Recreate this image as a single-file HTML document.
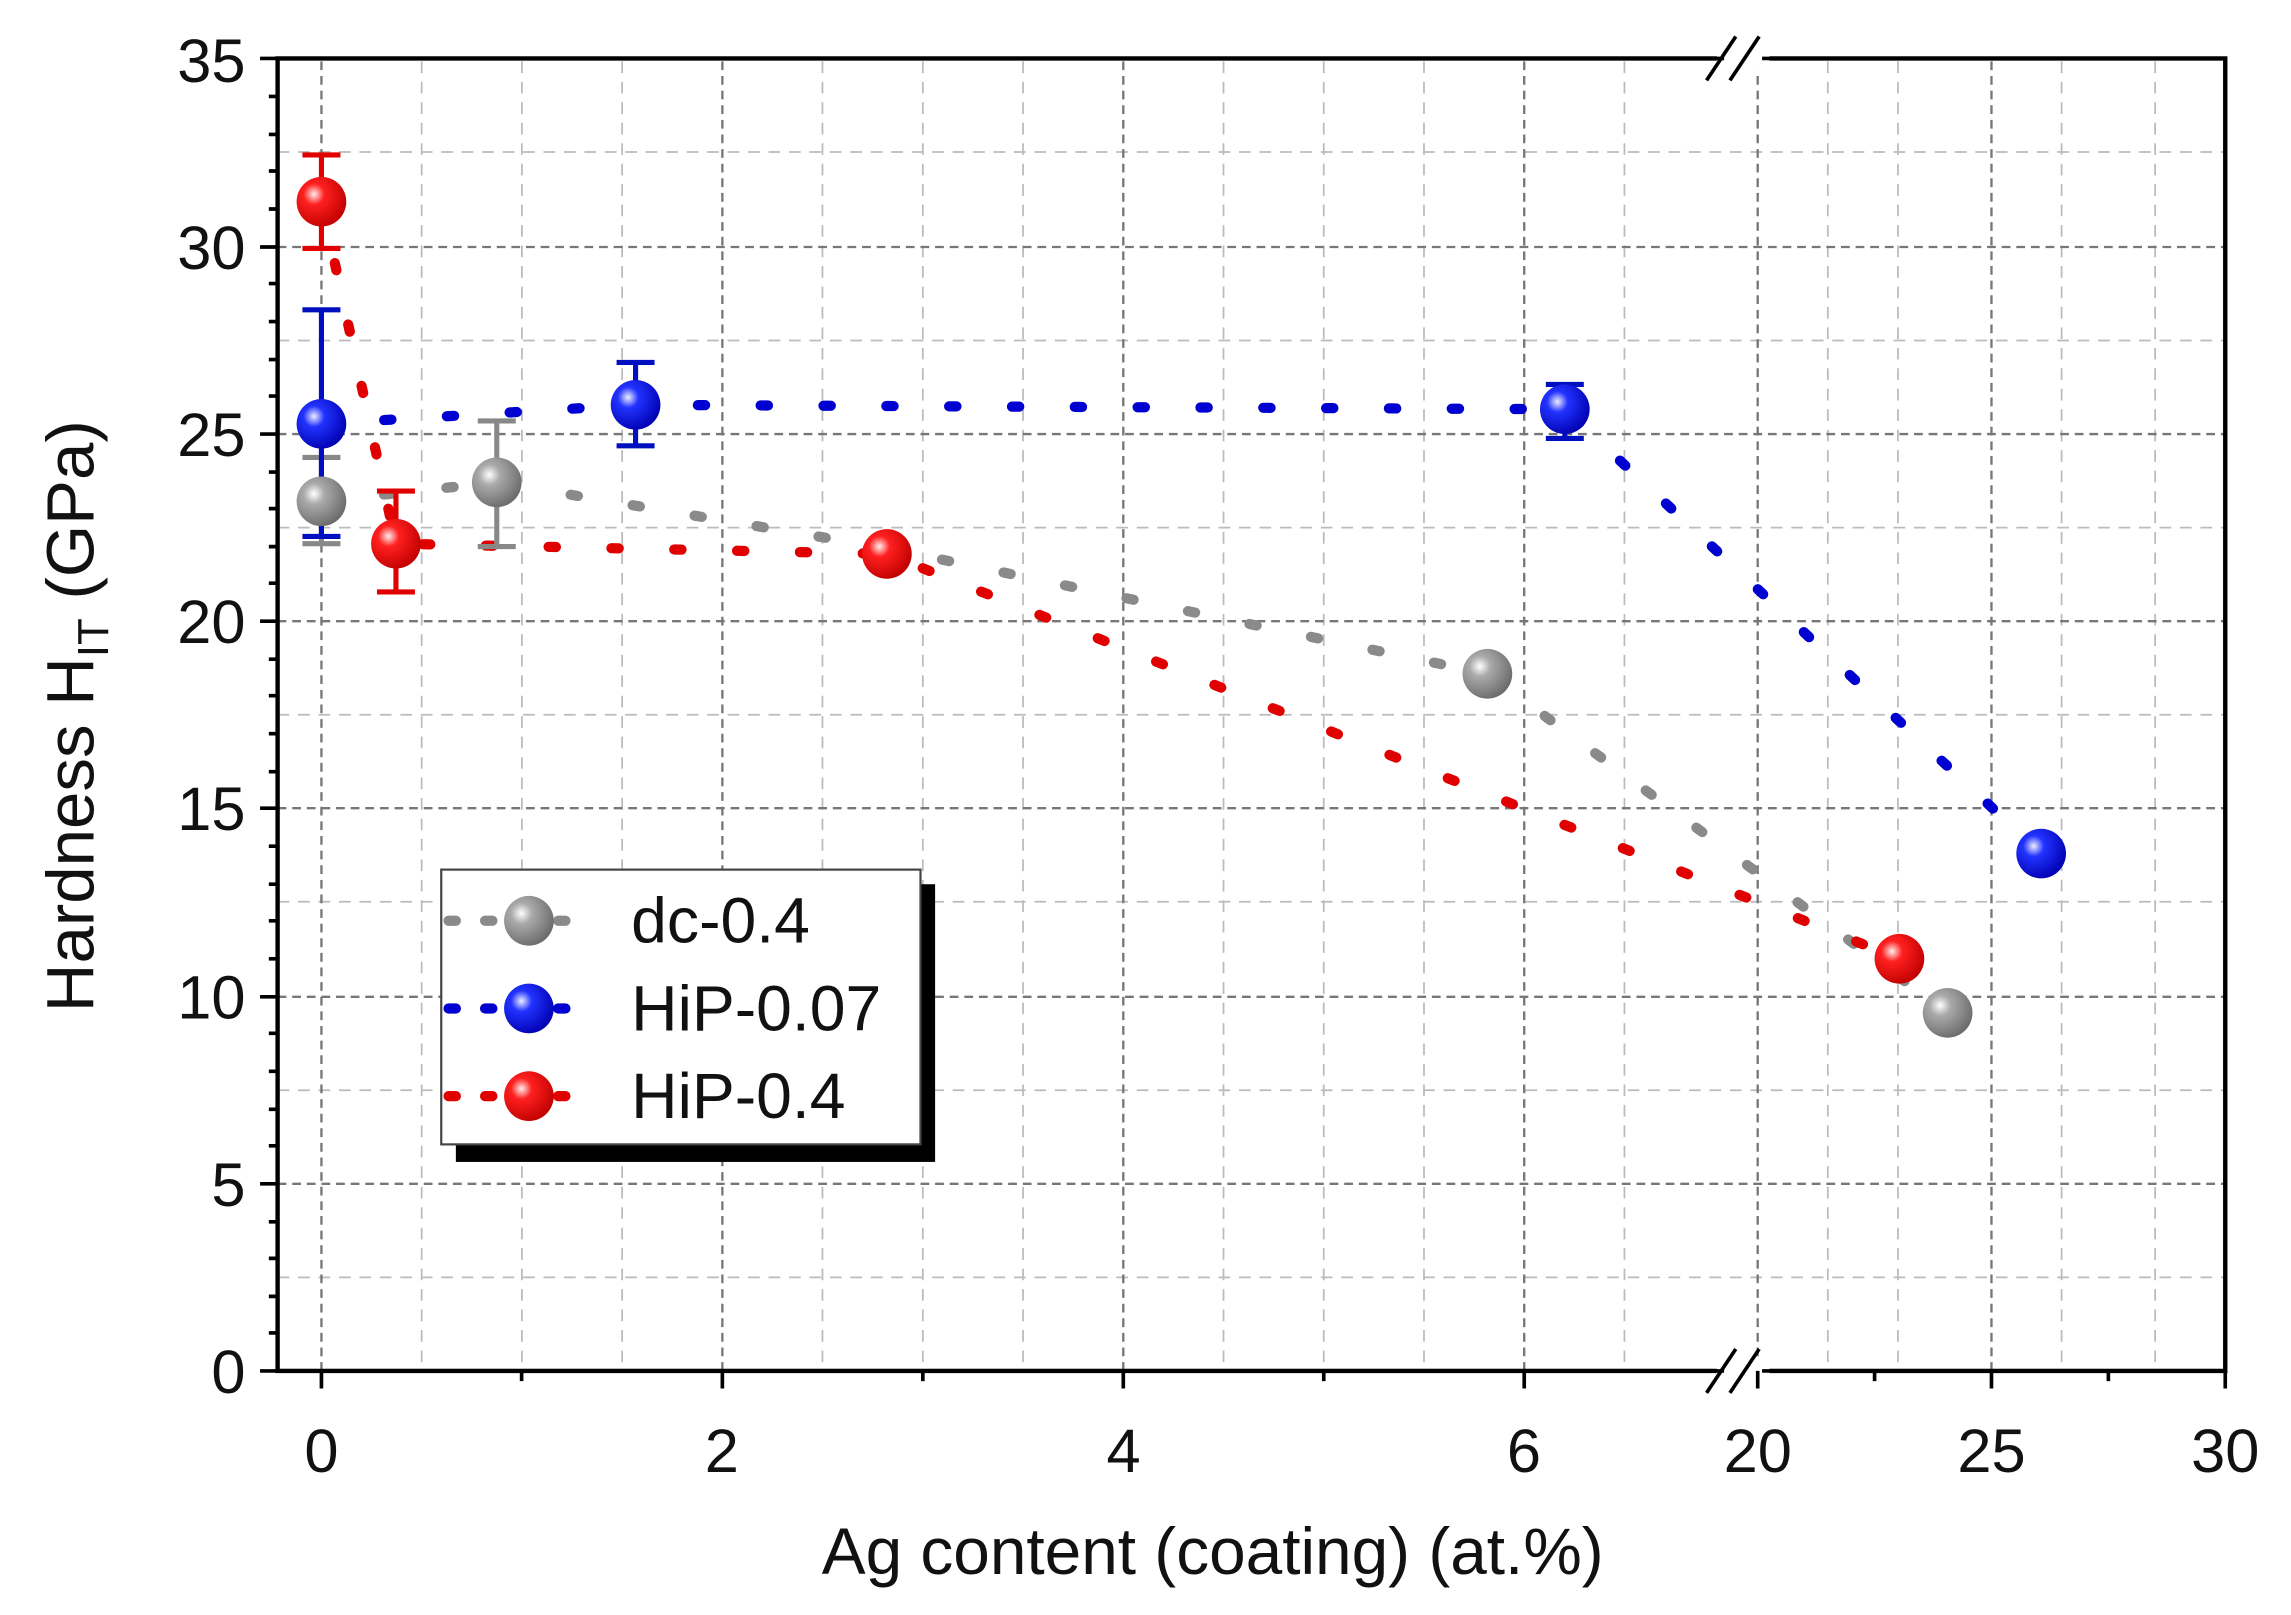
<!DOCTYPE html>
<html><head><meta charset="utf-8"><style>
html,body{margin:0;padding:0;background:#fff}
svg{display:block}
text{font-family:"Liberation Sans",sans-serif;fill:#111}
</style></head><body>
<svg width="2291" height="1615" viewBox="0 0 1568 1105" preserveAspectRatio="none" xmlns="http://www.w3.org/2000/svg">
<defs>
<radialGradient id="gg" cx="0.35" cy="0.35" r="0.7"><stop offset="0" stop-color="#fff"/><stop offset="0.3" stop-color="#aaa"/><stop offset="1" stop-color="#6a6a6a"/></radialGradient>
<radialGradient id="gb" cx="0.35" cy="0.35" r="0.7"><stop offset="0" stop-color="#eef"/><stop offset="0.3" stop-color="#2233ff"/><stop offset="1" stop-color="#0000b0"/></radialGradient>
<radialGradient id="gr" cx="0.35" cy="0.35" r="0.7"><stop offset="0" stop-color="#fee"/><stop offset="0.3" stop-color="#ff2020"/><stop offset="1" stop-color="#c00000"/></radialGradient>
</defs>
<g stroke="#bbb" stroke-width="1.2" stroke-dasharray="8 6" fill="none">
<path d="M288.6 42V938M357.2 42V938M425.8 42V938M562.9 42V938M631.6 42V938M700.2 42V938M837.4 42V938M906 42V938M974.6 42V938M1111.8 42V938M1251 42V938M1299 42V938M1411 42V938M1475 42V938"/>
<path d="M190 874H1523M190 746H1523M190 617H1523M190 489H1523M190 361H1523M190 233H1523M190 104H1523"/>
</g>
<g stroke="#777" stroke-width="1.6" stroke-dasharray="6 4" fill="none">
<path d="M220 42V938M494.4 42V938M768.8 42V938M1043.2 42V938M1203 42V938M1363 42V938"/>
<path d="M190 810H1523M190 682H1523M190 553H1523M190 425H1523M190 297H1523M190 169H1523"/>
</g>
<g fill="none" stroke-linecap="round" stroke-width="7" stroke-dasharray="5 38">
<path d="M220 343L340 330L607 375L1018 461L1333 693" stroke="#8a8a8a"/>
<path d="M220 138L271 372L607 379L1300 656" stroke="#e00000"/>
<path d="M220 290L435 277L1071 280L1397 584" stroke="#0000d0"/>
</g>
<g stroke-width="3.5" fill="none">
<path d="M220 313V372M207 313H233M207 372H233" stroke="#888"/>
<path d="M340 288V374M327 288H353M327 374H353" stroke="#888"/>
<path d="M220 212V367M207 212H233M207 367H233" stroke="#0010c0"/>
<path d="M435 248V305M422 248H448M422 305H448" stroke="#0010c0"/>
<path d="M1071 263V300M1058 263H1084M1058 300H1084" stroke="#0010c0"/>
<path d="M220 106V170M207 106H233M207 170H233" stroke="#e00000"/>
<path d="M271 336V405M258 336H284M258 405H284" stroke="#e00000"/>
</g>
<g>
<circle cx="220" cy="343" r="17" fill="url(#gg)"/>
<circle cx="340" cy="330" r="17" fill="url(#gg)"/>
<circle cx="1018" cy="461" r="17" fill="url(#gg)"/>
<circle cx="1333" cy="693" r="17" fill="url(#gg)"/>
<circle cx="220" cy="290" r="17" fill="url(#gb)"/>
<circle cx="435" cy="277" r="17" fill="url(#gb)"/>
<circle cx="1071" cy="280" r="17" fill="url(#gb)"/>
<circle cx="1397" cy="584" r="17" fill="url(#gb)"/>
<circle cx="220" cy="138" r="17" fill="url(#gr)"/>
<circle cx="271" cy="372" r="17" fill="url(#gr)"/>
<circle cx="607" cy="379" r="17" fill="url(#gr)"/>
<circle cx="1300" cy="656" r="17" fill="url(#gr)"/>
</g>
<rect x="190" y="40" width="1333" height="898" fill="none" stroke="#000" stroke-width="3"/>
<rect x="1175" y="30" width="36" height="18" fill="#fff"/>
<rect x="1175" y="930" width="36" height="18" fill="#fff"/>
<g stroke="#000" stroke-width="2.5">
<path d="M1168 55L1188 25M1184 55L1204 25M1168 953L1188 923M1184 953L1204 923"/>
<path d="M190 938H1180M1206 938H1523M190 40H1180M1206 40H1523"/>
</g>
<g stroke="#000" stroke-width="2.5">
<path d="M178 938H190M178 810H190M178 682H190M178 553H190M178 425H190M178 297H190M178 169H190M178 40H190"/>
<path d="M184 912H190M184 887H190M184 861H190M184 836H190M184 784H190M184 759H190M184 733H190M184 707H190M184 656H190M184 630H190M184 605H190M184 579H190M184 528H190M184 502H190M184 476H190M184 451H190M184 399H190M184 374H190M184 348H190M184 323H190M184 271H190M184 246H190M184 220H190M184 194H190M184 143H190M184 117H190M184 92H190M184 66H190"/>
<path d="M220 938V950M494.4 938V950M768.8 938V950M1043.2 938V950M1203 938V950M1363 938V950M1523 938V950"/>
<path d="M357 938V945M631.6 938V945M906 938V945M1283 938V945M1443 938V945"/>
</g>
<g font-size="42" text-anchor="end">
<text x="168" y="953">0</text><text x="168" y="825">5</text><text x="168" y="697">10</text><text x="168" y="568">15</text><text x="168" y="440">20</text><text x="168" y="312">25</text><text x="168" y="184">30</text><text x="168" y="56">35</text>
</g>
<g font-size="42" text-anchor="middle">
<text x="220" y="1007">0</text><text x="494" y="1007">2</text><text x="769" y="1007">4</text><text x="1043" y="1007">6</text><text x="1203" y="1007">20</text><text x="1363" y="1007">25</text><text x="1523" y="1007">30</text>
<text x="830" y="1077" font-size="45">Ag content (coating) (at.%)</text>
</g>
<text transform="translate(64 490) rotate(-90)" font-size="46" text-anchor="middle">Hardness H<tspan font-size="30" dy="10">IT</tspan><tspan dy="-10"> (GPa)</tspan></text>
<rect x="312" y="605" width="328" height="190" fill="#000"/>
<rect x="302" y="595" width="328" height="188" fill="#fff" stroke="#444" stroke-width="1.5"/>
<g fill="none" stroke-linecap="round" stroke-width="7" stroke-dasharray="5 20">
<path d="M307 630H395" stroke="#8a8a8a"/><path d="M307 690H395" stroke="#0000d0"/><path d="M307 750H395" stroke="#e00000"/>
</g>
<circle cx="362" cy="630" r="17" fill="url(#gg)"/>
<circle cx="362" cy="690" r="17" fill="url(#gb)"/>
<circle cx="362" cy="750" r="17" fill="url(#gr)"/>
<g font-size="44"><text x="432" y="645">dc-0.4</text><text x="432" y="705">HiP-0.07</text><text x="432" y="765">HiP-0.4</text></g>
</svg>
</body></html>
